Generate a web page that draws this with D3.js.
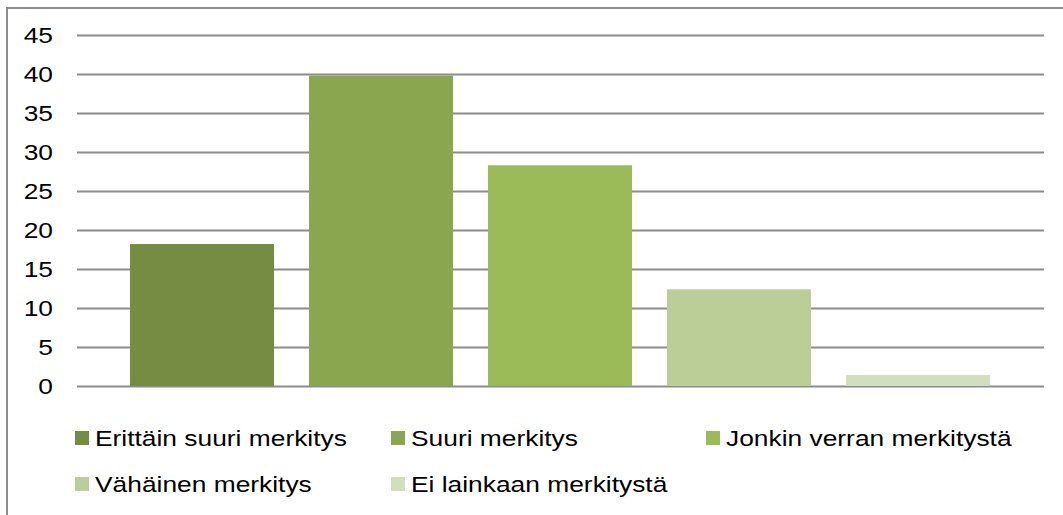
<!DOCTYPE html>
<html>
<head>
<meta charset="utf-8">
<script src="https://cdn.jsdelivr.net/npm/d3@7"></script>
<style>
  html, body { margin: 0; padding: 0; background: #fff; }
  svg { display: block; }
  text { font-family: "Liberation Sans", Arial, sans-serif; fill: #000; }
</style>
</head>
<body>
<svg id="chart" width="1063" height="515"></svg>
<script>
const categories = ["Erittäin suuri merkitys", "Suuri merkitys", "Jonkin verran merkitystä", "Vähäinen merkitys", "Ei lainkaan merkitystä"];
const values = [18.2, 39.8, 28.3, 12.4, 1.4];
const colors = ["#768c42", "#8aa64f", "#9bbb59", "#bbce97", "#d2debe"];
const yTicks = [0, 5, 10, 15, 20, 25, 30, 35, 40, 45];

const svg = d3.select("#chart");
const FS = 21.5, SX = 1.226;

// outer border (extends past right/bottom edge)
svg.append("rect").attr("x", 7).attr("y", 8).attr("width", 1200).attr("height", 700)
  .attr("fill", "none").attr("stroke", "#8c8c8c").attr("stroke-width", 2);

const y = d3.scaleLinear().domain([0, 45]).range([386, 35]);
const x = d3.scaleBand().domain(categories).range([112.5, 1007.5]).paddingInner(0.1955).paddingOuter(0.0978);
const color = d3.scaleOrdinal().domain(categories).range(colors);

// gridlines
const grid = svg.append("g");
grid.selectAll("line").data(yTicks).join("line")
  .attr("x1", 77).attr("x2", 1044)
  .attr("y1", d => Math.round(y(d)) + 0.5).attr("y2", d => Math.round(y(d)) + 0.5)
  .attr("stroke", "#8c8c8c").attr("stroke-width", 2);

// tick labels
svg.append("g").selectAll("text").data(yTicks).join("text")
  .attr("transform", d => `translate(53,${y(d)}) scale(${SX},1)`)
  .attr("text-anchor", "end").attr("dy", "0.36em")
  .attr("font-size", FS)
  .text(d => d);

// bars
svg.append("g").selectAll("rect").data(categories).join("rect")
  .attr("x", d => x(d))
  .attr("width", x.bandwidth())
  .attr("y", (d, i) => y(values[i]))
  .attr("height", (d, i) => y(0) - y(values[i]))
  .attr("fill", d => color(d));

// legend
const legCols = [75, 391, 706];
const legRows = [431, 477];
const leg = svg.append("g");
categories.forEach((c, i) => {
  const col = legCols[i % 3], row = legRows[Math.floor(i / 3)];
  const g = leg.append("g").attr("transform", `translate(${col},${row})`);
  g.append("rect").attr("x", 0).attr("y", 0).attr("width", 14).attr("height", 14).attr("fill", color(c));
  g.append("text").attr("transform", `translate(20,15) scale(${SX},1)`)
    .attr("font-size", FS).text(c);
});
</script>
</body>
</html>
